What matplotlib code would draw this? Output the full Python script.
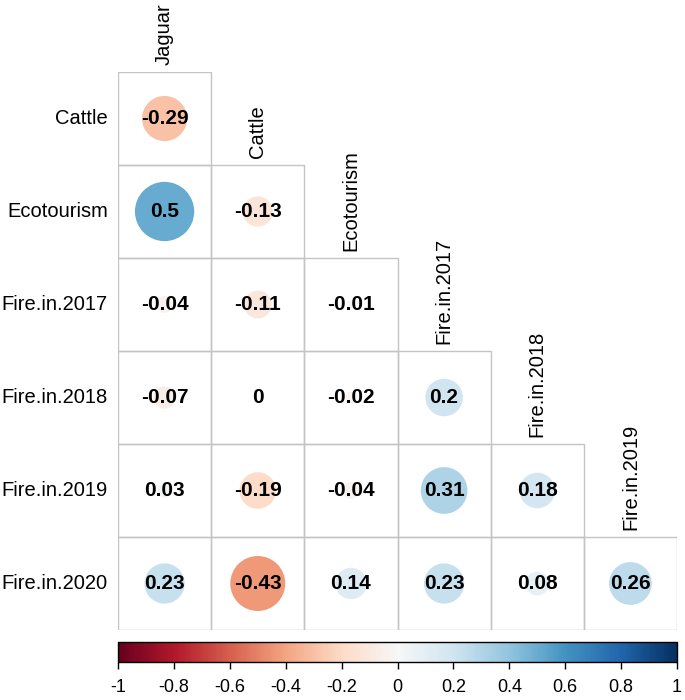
import numpy as np
import matplotlib.pyplot as plt
from matplotlib.patches import Rectangle, Ellipse
from matplotlib.colors import Normalize
from matplotlib import cm

# -------------------------------------------------
# Data (lower triangle of the correlation matrix)
# -------------------------------------------------
row_labels = ["Cattle", "Ecotourism", "Fire.in.2017", "Fire.in.2018",
              "Fire.in.2019", "Fire.in.2020"]
col_labels = ["Jaguar", "Cattle", "Ecotourism", "Fire.in.2017",
              "Fire.in.2018", "Fire.in.2019"]

corr_cattle = [-0.29]
corr_ecotourism = [0.5, -0.13]
corr_fire2017 = [-0.04, -0.11, -0.01]
corr_fire2018 = [-0.07, 0, -0.02, 0.2]
corr_fire2019 = [0.03, -0.19, -0.04, 0.31, 0.18]
corr_fire2020 = [0.23, -0.43, 0.14, 0.23, 0.08, 0.26]

rows = [corr_cattle, corr_ecotourism, corr_fire2017, corr_fire2018,
        corr_fire2019, corr_fire2020]

cbar_ticks = [-1, -0.8, -0.6, -0.4, -0.2, 0, 0.2, 0.4, 0.6, 0.8, 1]

plt.rcParams["font.family"] = ["Liberation Sans", "DejaVu Sans"]

cmap = plt.get_cmap("RdBu")
norm = Normalize(vmin=-1, vmax=1)

W, H = 685, 700
fig = plt.figure(figsize=(W / 100, H / 100), dpi=100)

# main grid axes: pixels x 118..677, y 72..630
ax = fig.add_axes([118 / W, (H - 630) / H, 559 / W, 558 / H])
ax.set_xlim(0, 6)
ax.set_ylim(6, 0)
ax.axis("off")

cw = 559 / 6
ch = 558 / 6
for i, vals in enumerate(rows):
    for j, v in enumerate(vals):
        ax.add_patch(Rectangle((j, i), 1, 1, fill=False, edgecolor="#c4c4c4",
                               linewidth=1.0, zorder=1))
        r = 0.45 * np.sqrt(abs(v))
        if r > 0:
            ax.add_patch(Ellipse((j + 0.5, i + 0.5), 2 * r, 2 * r * cw / ch,
                                 facecolor=cmap(norm(v)), edgecolor="none",
                                 zorder=2))
        txt = "0" if v == 0 else f"{v:g}"
        ax.text(j + 0.5, i + 0.5, txt, ha="center", va="center",
                fontsize=15, fontweight="bold", color="black", zorder=3)

# row labels
for i, lab in enumerate(row_labels):
    ax.text(-0.11, i + 0.5, lab, ha="right", va="center", fontsize=14.5,
            clip_on=False)

# column labels, above the top cell of each column
for j, lab in enumerate(col_labels):
    ax.text(j + 0.5, j - 0.08, lab, ha="center", va="bottom", rotation=90,
            fontsize=14.5, clip_on=False)

# -------------------------------------------------
# Colour bar
# -------------------------------------------------
cax = fig.add_axes([118 / W, (H - 662) / H, 559 / W, 20 / H])
sm = cm.ScalarMappable(norm=norm, cmap=cmap)
cb = fig.colorbar(sm, cax=cax, orientation="horizontal", ticks=cbar_ticks)
cb.ax.set_xticklabels([f"{t:g}" for t in cbar_ticks])
cb.ax.tick_params(labelsize=13, length=5, width=1, direction="out", pad=7)
cb.outline.set_linewidth(1.0)

fig.savefig("out.png", dpi=100)
